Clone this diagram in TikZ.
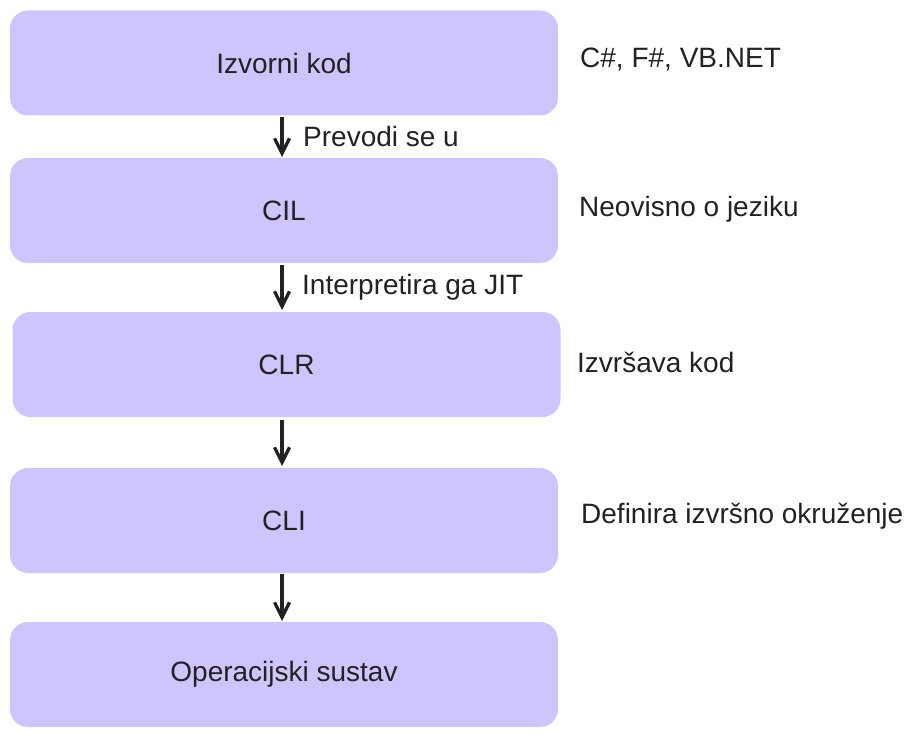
\documentclass[tikz,border=0pt]{standalone}
\usepackage{fontspec}
\setmainfont{Liberation Sans}
\usetikzlibrary{arrows.meta}
\definecolor{boxfill}{HTML}{D0C4FE}
\definecolor{txt}{HTML}{222222}
\begin{document}
\begin{tikzpicture}[x=1pt,y=-1pt,
  box/.style={fill=boxfill,draw=none,rounded corners=18pt,minimum width=548pt,minimum height=105pt,inner sep=0pt,font=\fontsize{28}{32}\selectfont,text=txt},
  lbl/.style={anchor=west,inner sep=0pt,font=\fontsize{28}{32}\selectfont,text=txt},
  arr/.style={line width=3.3pt,draw=txt,-{Straight Barb[length=15pt,width=15pt,line width=3.3pt]}}]
\useasboundingbox (0,0) rectangle (912,738);
\node[box] (b1) at (284,63) {Izvorni kod};
\node[box] (b2) at (284,210.5) {CIL};
\node[box] (b3) at (286.5,364.5) {CLR};
\node[box] (b4) at (284,520.5) {CLI};
\node[box] (b5) at (284,674.5) {Operacijski sustav};
\coordinate (a1s) at (282,117); \coordinate (a1e) at (282,157);
\coordinate (a2s) at (282,265); \coordinate (a2e) at (282,310);
\coordinate (a3s) at (282,420); \coordinate (a3e) at (282,466);
\coordinate (a4s) at (282,574); \coordinate (a4e) at (282,621);
\draw[arr] (a1s) -- (a1e);
\draw[arr] (a2s) -- (a2e);
\draw[arr] (a3s) -- (a3e);
\draw[arr] (a4s) -- (a4e);
\node[lbl] (l1) at (303,136) {Prevodi se u};
\node[lbl] (l2) at (302,287) {Interpretira ga JIT};
\node[lbl] (r1) at (580,60) {C\#, F\#, VB.NET};
\node[lbl] (r2) at (579,209) {Neovisno o jeziku};
\node[lbl] (r3) at (577,362) {Izvršava kod};
\node[lbl] (r4) at (581,516) {Definira izvršno okruženje};
\end{tikzpicture}
\end{document}
